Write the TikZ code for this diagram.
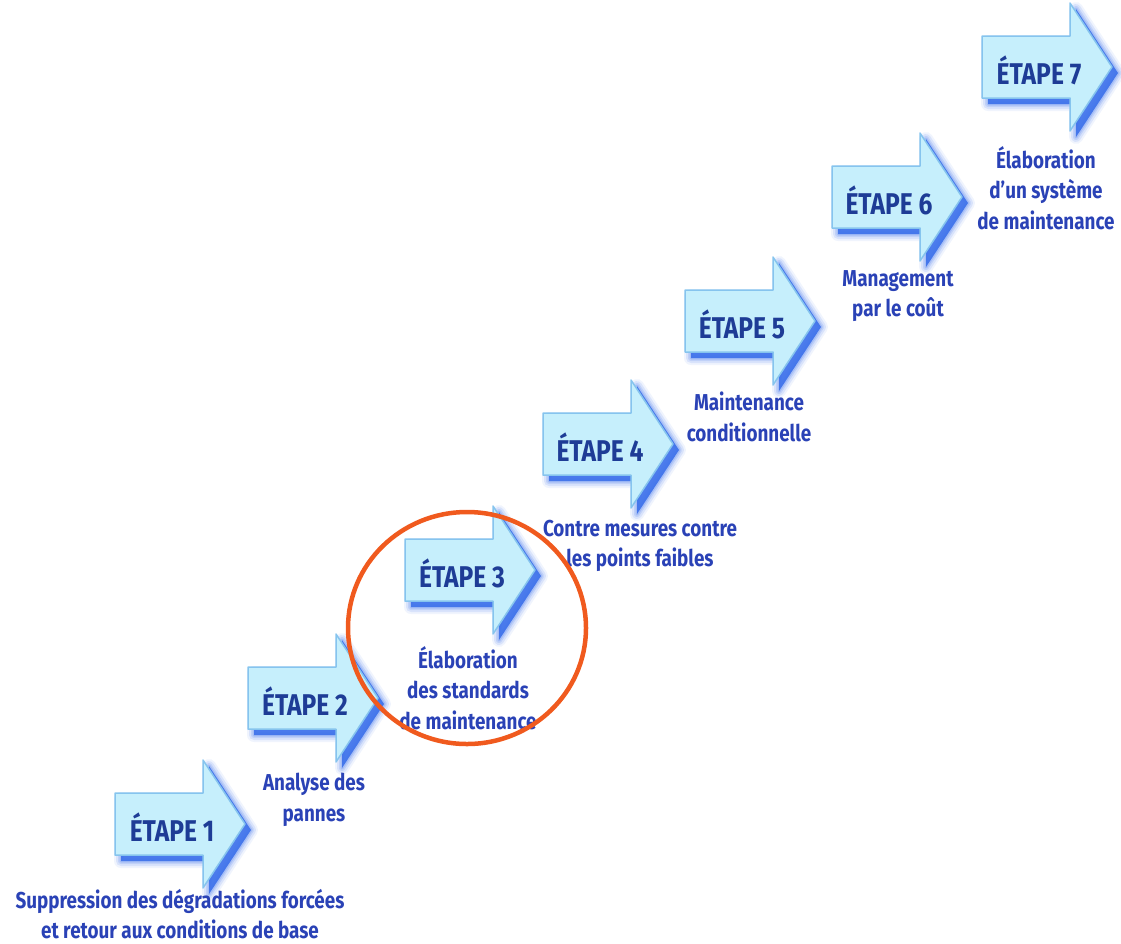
\documentclass[tikz,border=0pt]{standalone}
\usepackage{fontspec}
\usetikzlibrary{shapes.geometric}
\setmainfont{Fira Sans}[FakeStretch=0.82]
\definecolor{arrowfill}{HTML}{C6EFFC}
\definecolor{arrowedge}{HTML}{86C4EE}
\definecolor{shadowblue}{HTML}{3A6FEA}
\definecolor{stagetextblue}{HTML}{1E3C96}
\definecolor{labelblue}{HTML}{2A42B6}
\definecolor{ringred}{HTML}{F05A1E}
\tikzset{
  arrowoutline/.style={line join=round},
  stagetext/.style={font=\bfseries\fontsize{30}{32}\selectfont, text=stagetextblue, inner sep=0pt},
  steplabel/.style={font=\bfseries\fontsize{23}{30.5}\selectfont, text=labelblue, align=center, inner sep=0pt},
  stagearrow/.pic={
    % soft blue shadow, offset down and to the right
    \foreach \w/\o in {14/0.08,10/0.12,6/0.16,3/0.2} {
      \draw[shadowblue, arrowoutline, line width=\w pt, opacity=\o, shift={(6,6)}]
        (0,-31) -- (88,-31) -- (88,-64) -- (130,0) -- (88,64) -- (88,31) -- (0,31) -- cycle;
    }
    \fill[shadowblue, opacity=0.9, shift={(6,6)}]
      (0,-31) -- (88,-31) -- (88,-64) -- (130,0) -- (88,64) -- (88,31) -- (0,31) -- cycle;
    % arrow body
    \draw[arrowedge, fill=arrowfill, arrowoutline, line width=1.5pt]
      (0,-31) -- (88,-31) -- (88,-64) -- (130,0) -- (88,64) -- (88,31) -- (0,31) -- cycle;
    \node[stagetext] (-t) at (57,3) {\tikzpictext};
  }
}
\begin{document}
\begin{tikzpicture}[x=1pt, y=-1pt]
  \useasboundingbox (0,0) rectangle (1121,943);

  % the seven stage arrows, climbing to the right
  \pic (s1) at (115,824) [pic text={ÉTAPE 1}] {stagearrow};
  \pic (s2) at (248,698) [pic text={ÉTAPE 2}] {stagearrow};
  \pic (s3) at (405,570) [pic text={ÉTAPE 3}] {stagearrow};
  \pic (s4) at (543,444) [pic text={ÉTAPE 4}] {stagearrow};
  \pic (s5) at (685,321) [pic text={ÉTAPE 5}] {stagearrow};
  \pic (s6) at (832,197) [pic text={ÉTAPE 6}] {stagearrow};
  \pic (s7) at (982,67)  [pic text={ÉTAPE 7}] {stagearrow};

  % descriptions of each stage
  \node[steplabel] (l1) at (180,914) {Suppression des dégradations forcées\\et retour aux conditions de base};
  \node[steplabel] (l2) at (314,800) {Analyse des\\pannes};
  \node[steplabel] (l3) at (468,688) {Élaboration\\des standards\\de maintenance};
  \node[steplabel] (l4) at (640,546) {Contre mesures contre\\les points faibles};
  \node[steplabel] (l5) at (749,417) {Maintenance\\conditionnelle};
  \node[steplabel] (l6) at (898,296) {Management\\par le coût};
  \node[steplabel] (l7) at (1046,188) {Élaboration\\d’un système\\de maintenance};

  % highlight ring around stage 3
  \node[draw=ringred, line width=4.5pt, ellipse, minimum width=238pt, minimum height=232pt] (ring) at (467,628) {};
\end{tikzpicture}
\end{document}
